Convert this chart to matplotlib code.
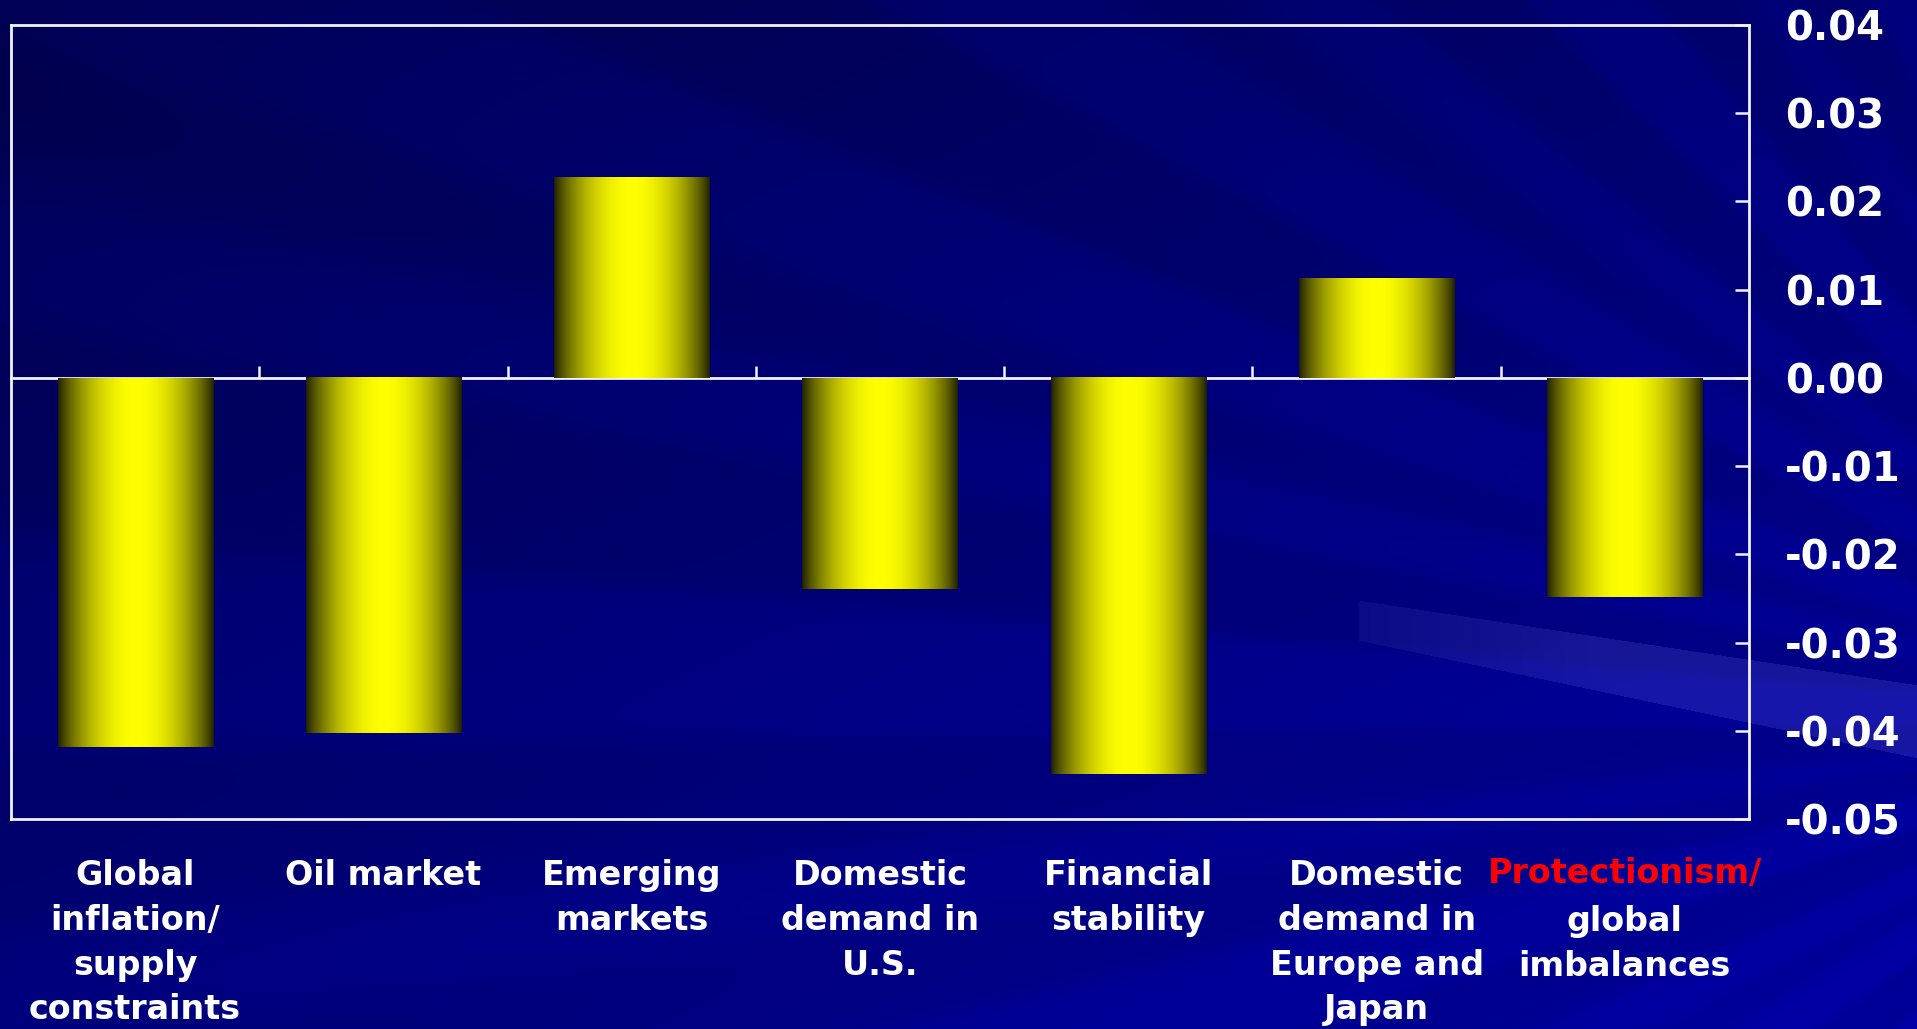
import numpy as np
import matplotlib
matplotlib.use("Agg")
from matplotlib import pyplot as plt

# Data
categories = [
    "Global\ninflation/\nsupply\nconstraints",
    "Oil market",
    "Emerging\nmarkets",
    "Domestic\ndemand in\nU.S.",
    "Financial\nstability",
    "Domestic\ndemand in\nEurope and\nJapan",
    "Protectionism/\nglobal\nimbalances",
]
values = [-0.0418, -0.0403, 0.0227, -0.0239, -0.0449, 0.0113, -0.0248]
yticks = [0.04, 0.03, 0.02, 0.01, 0.00, -0.01, -0.02, -0.03, -0.04, -0.05]

W, H = 1917, 1029
fig = plt.figure(figsize=(W / 100, H / 100), dpi=100)

# Background: navy gradient with faint rays
bg = fig.add_axes([0, 0, 1, 1])
bg.axis("off")
yy, xx = np.mgrid[0:H, 0:W].astype(float)
fx, fy = 2250.0, 720.0
theta = np.degrees(np.arctan2(fy - yy, fx - xx))
blue = 0x50 + 0x26 * (xx / W) + 0x2a * (yy / H)
rays = np.sin(np.radians(theta * 40)) + 0.7 * np.sin(np.radians(theta * 23 + 60))
blue += 7 * np.tanh(2.5 * rays)
# light streak at lower right
top_edge = 600 + (xx - 1357) * (85 / 560)
bot_edge = 640 + (xx - 1357) * (118 / 560)
band = ((yy > top_edge) & (yy < bot_edge) & (xx > 1357)).astype(float)
band *= np.clip((xx - 1357) / 500 + 0.5, 0, 1)
blue += 20 * band
blue = np.clip(blue, 0, 255) / 255.0
rg = 0.09 * band
bg_img = np.dstack([rg, rg, blue])
bg.imshow(bg_img, extent=[0, 1, 0, 1], aspect="auto", interpolation="bilinear")
bg.set_xlim(0, 1)
bg.set_ylim(0, 1)

ax = fig.add_axes([11 / W, 1 - 819 / H, (1749 - 11) / W, (819 - 25) / H])
ax.set_facecolor("none")

x = np.arange(len(categories))
bars = ax.bar(x, values, width=0.625, color="none", edgecolor="none", zorder=2)

# cylinder-like shading across each bar
t = np.linspace(0, 1, 256)
b = 0.12 + 0.88 * np.sin(np.pi * t) ** 0.8
shade = np.dstack([b, b, np.zeros_like(b)])
for bar in bars:
    x0, y0 = bar.get_x(), bar.get_y()
    ax.imshow(shade, extent=[x0, x0 + bar.get_width(), y0, y0 + bar.get_height()],
              aspect="auto", interpolation="bilinear", zorder=2)

ax.set_xlim(-0.5, len(categories) - 0.5)
ax.set_ylim(-0.05, 0.04)

frame = "#f2f2f2"
for s in ax.spines.values():
    s.set_color(frame)
    s.set_linewidth(2)

# y axis on the right, ticks pointing in
ax.yaxis.tick_right()
ax.set_yticks(yticks)
ax.set_yticklabels([f"{v:.2f}" for v in yticks])
ax.tick_params(axis="y", direction="in", length=10, width=1.8, color=frame,
               pad=26, labelsize=29, labelcolor="white")
for lab in ax.get_yticklabels():
    lab.set_fontweight("bold")

ax.set_xticks([])

# zero line with category separators
zero = ax.secondary_xaxis(0, transform=ax.transData)
zero.set_xticks(x[:-1] + 0.5)
zero.set_xticklabels([])
zero.tick_params(direction="in", length=9, width=1.8, color=frame)
zero.spines["bottom"].set_color(frame)
zero.spines["bottom"].set_linewidth(2)

# category labels
line_step = 33  # points between label lines
top_off = -29
for i, lab in enumerate(categories):
    kw = dict(xy=(i, 0), xycoords=("data", "axes fraction"),
              textcoords="offset points", ha="center", va="top", fontsize=24,
              fontweight="bold", linespacing=1.45, annotation_clip=False)
    if lab.startswith("Protectionism"):
        first, rest = lab.split("\n", 1)
        ax.annotate(first, color="red", xytext=(0, top_off + 2), **kw)
        ax.annotate(rest, color="white", xytext=(0, top_off - line_step), **kw)
    else:
        ax.annotate(lab, color="white", xytext=(0, top_off), **kw)

fig.savefig("out.png", dpi=100)
